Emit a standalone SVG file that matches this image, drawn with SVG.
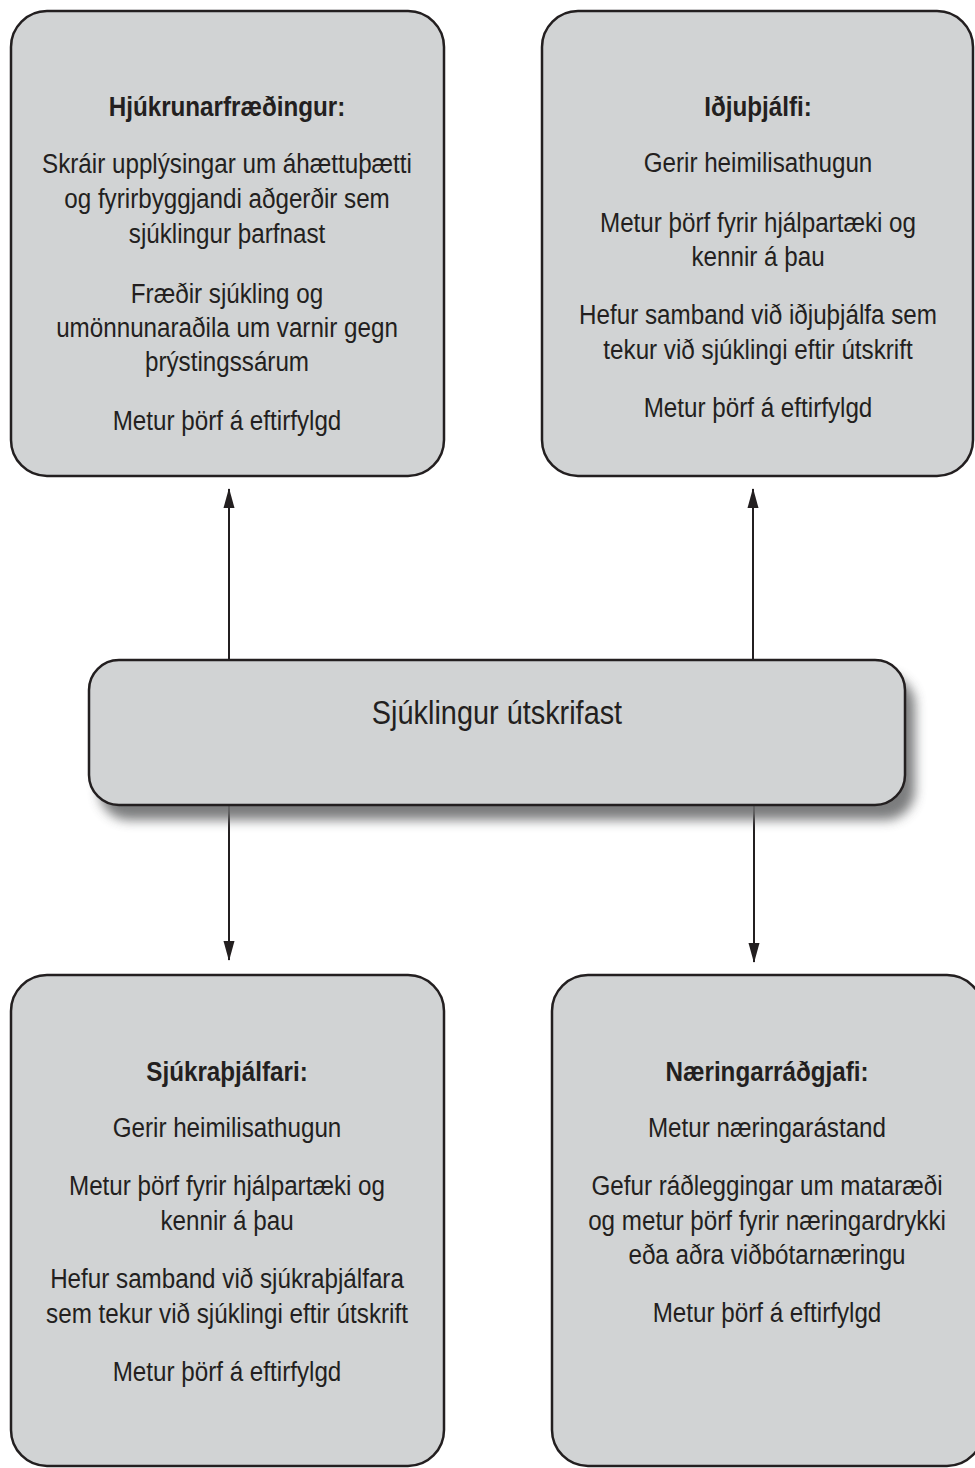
<svg xmlns="http://www.w3.org/2000/svg" width="975" height="1468" viewBox="0 0 975 1468">
<style>
.box{fill:#d1d3d4;stroke:#231f20;stroke-width:2.5}
.t{font-family:"Liberation Sans",Arial,sans-serif;font-size:28px;fill:#231f20;text-anchor:middle}
.h{font-weight:bold}
.c{font-size:33px}
.ln{stroke:#231f20;stroke-width:2;fill:none}
</style>
<defs>
<marker id="ah" viewBox="0 0 20 12" refX="19" refY="6" markerWidth="20" markerHeight="12" markerUnits="userSpaceOnUse" orient="auto">
<path d="M0,0.5 L20,6 L0,11.5 Z" fill="#231f20"/>
</marker>
<filter id="sh" x="-10%" y="-40%" width="130%" height="200%">
<feGaussianBlur stdDeviation="6"/>
</filter>
</defs>
<rect width="975" height="1468" fill="#ffffff"/>

<g id="connectors">
<line class="ln" x1="229" y1="660" x2="229" y2="489" marker-end="url(#ah)"/>
<line class="ln" x1="753" y1="660" x2="753" y2="489" marker-end="url(#ah)"/>
<line class="ln" x1="229" y1="805" x2="229" y2="960" marker-end="url(#ah)"/>
<line class="ln" x1="754" y1="805" x2="754" y2="962" marker-end="url(#ah)"/>
</g>

<g id="node-hjukrun">
<rect class="box" x="11" y="11" width="433" height="465" rx="36" ry="36"/>
<g transform="translate(227,0) scale(0.865,1)">
<text class="t h" x="0" y="116">Hjúkrunarfræðingur:</text>
<text class="t" x="0" y="173">Skráir upplýsingar um áhættuþætti</text>
<text class="t" x="0" y="208">og fyrirbyggjandi aðgerðir sem</text>
<text class="t" x="0" y="243">sjúklingur þarfnast</text>
<text class="t" x="0" y="303">Fræðir sjúkling og</text>
<text class="t" x="0" y="337">umönnunaraðila um varnir gegn</text>
<text class="t" x="0" y="371">þrýstingssárum</text>
<text class="t" x="0" y="430">Metur þörf á eftirfylgd</text>
</g>
</g>

<g id="node-idjuthjalfi">
<rect class="box" x="542" y="11" width="431" height="465" rx="36" ry="36"/>
<g transform="translate(758,0) scale(0.865,1)">
<text class="t h" x="0" y="116">Iðjuþjálfi:</text>
<text class="t" x="0" y="172">Gerir heimilisathugun</text>
<text class="t" x="0" y="232">Metur þörf fyrir hjálpartæki og</text>
<text class="t" x="0" y="266">kennir á þau</text>
<text class="t" x="0" y="324">Hefur samband við iðjuþjálfa sem</text>
<text class="t" x="0" y="359">tekur við sjúklingi eftir útskrift</text>
<text class="t" x="0" y="417">Metur þörf á eftirfylgd</text>
</g>
</g>

<g id="node-center">
<rect x="99" y="675" width="816" height="145" rx="30" ry="30" fill="#6d6e70" filter="url(#sh)" opacity="0.9"/>
<rect class="box" x="89" y="660" width="816" height="145" rx="30" ry="30"/>
<g transform="translate(497,0) scale(0.875,1)">
<text class="t c" x="0" y="724">Sjúklingur útskrifast</text>
</g>
</g>

<g id="node-sjukrathjalfari">
<rect class="box" x="11" y="975" width="433" height="491" rx="36" ry="36"/>
<g transform="translate(227,0) scale(0.865,1)">
<text class="t h" x="0" y="1081">Sjúkraþjálfari:</text>
<text class="t" x="0" y="1137">Gerir heimilisathugun</text>
<text class="t" x="0" y="1195">Metur þörf fyrir hjálpartæki og</text>
<text class="t" x="0" y="1230">kennir á þau</text>
<text class="t" x="0" y="1288">Hefur samband við sjúkraþjálfara</text>
<text class="t" x="0" y="1323">sem tekur við sjúklingi eftir útskrift</text>
<text class="t" x="0" y="1381">Metur þörf á eftirfylgd</text>
</g>
</g>

<g id="node-naeringarradgjafi">
<rect class="box" x="552" y="975" width="431" height="491" rx="36" ry="36"/>
<g transform="translate(767,0) scale(0.865,1)">
<text class="t h" x="0" y="1081">Næringarráðgjafi:</text>
<text class="t" x="0" y="1137">Metur næringarástand</text>
<text class="t" x="0" y="1195">Gefur ráðleggingar um mataræði</text>
<text class="t" x="0" y="1230">og metur þörf fyrir næringardrykki</text>
<text class="t" x="0" y="1264">eða aðra viðbótarnæringu</text>
<text class="t" x="0" y="1322">Metur þörf á eftirfylgd</text>
</g>
</g>
</svg>
